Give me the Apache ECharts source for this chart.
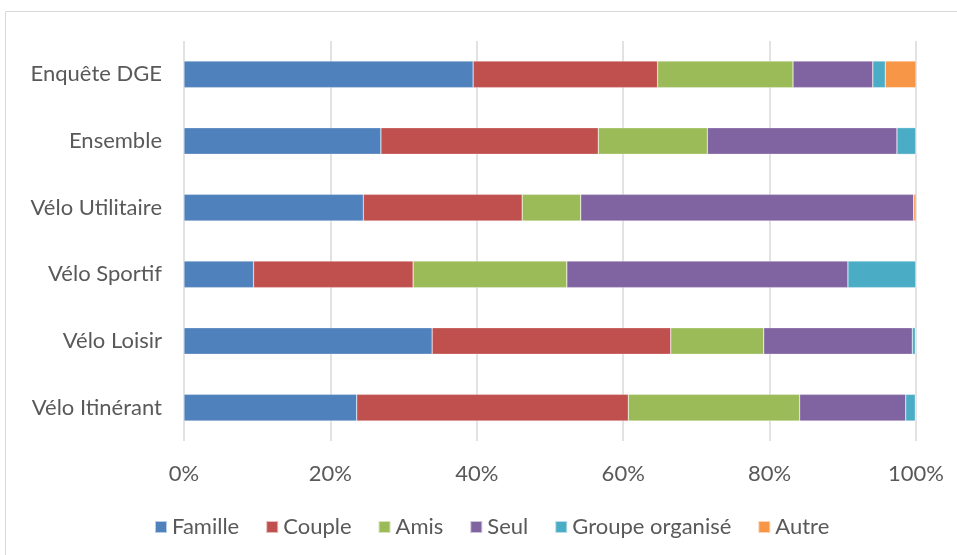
<!DOCTYPE html>
<html><head><meta charset="utf-8">
<script src="https://cdn.jsdelivr.net/npm/echarts@6/dist/echarts.min.js"></script>
<style>html,body{margin:0;padding:0;background:#fff}#c{width:957px;height:555px}</style>
</head><body><div id="c"></div>
<script>
const categories = ['Enquête DGE','Ensemble','Vélo Utilitaire','Vélo Sportif','Vélo Loisir','Vélo Itinérant'];
const seriesNames = ['Famille','Couple','Amis','Seul','Groupe organisé','Autre'];
const famille = [39.5, 26.9, 24.5, 9.5, 33.9, 23.6];
const couple  = [25.2, 29.7, 21.7, 21.8, 32.6, 37.1];
const amis    = [18.5, 14.9, 8.0, 21.0, 12.7, 23.4];
const seul    = [10.9, 25.9, 45.5, 38.4, 20.3, 14.5];
const groupe  = [1.7, 2.6, 0.0, 9.3, 0.4, 1.3];
const autre   = [4.2, 0.0, 0.3, 0.0, 0.1, 0.1];
const tickLabels = ['0%','20%','40%','60%','80%','100%'];
const colors = ['#4F81BD','#C0504D','#9BBB59','#8064A2','#4BACC6','#F79646'];
const values = [famille, couple, amis, seul, groupe, autre];

const chart = echarts.init(document.getElementById('c'));
const font = 'Lato, "Open Sans", sans-serif';
chart.setOption({
  animation: false,
  color: colors,
  graphic: [{type:'rect', shape:{x:5.5,y:11.5,width:960,height:560}, style:{fill:'none', stroke:'#d9d9d9', lineWidth:1}}],
  grid: {left:184, right:41, top:41, bottom:114},
  xAxis: {
    type:'value', min:0, max:100, interval:20,
    axisLine:{show:false}, axisTick:{show:false},
    splitLine:{lineStyle:{color:'#d9d9d9', width:1.5}},
    axisLabel:{formatter:(v)=>tickLabels[Math.round(v/20)], color:'#595959', fontSize:22, fontFamily:font, margin:22}
  },
  yAxis: {
    type:'category', data:categories, inverse:true,
    axisLine:{show:false}, axisTick:{show:false},
    axisLabel:{color:'#595959', fontSize:22, fontFamily:font, margin:22}
  },
  legend: {
    bottom:12, left:149, itemWidth:12, itemHeight:12, itemGap:26,
    icon:'rect',
    textStyle:{color:'#595959', fontSize:22, fontFamily:font, padding:[0,0,0,0]},
    data: seriesNames
  },
  series: seriesNames.map((n,i)=>({
    name:n, type:'bar', stack:'total', data:values[i],
    barCategoryGap:'60%',
    itemStyle:{borderColor:'rgba(255,255,255,0.6)', borderWidth:0.5}
  }))
});
</script></body></html>
